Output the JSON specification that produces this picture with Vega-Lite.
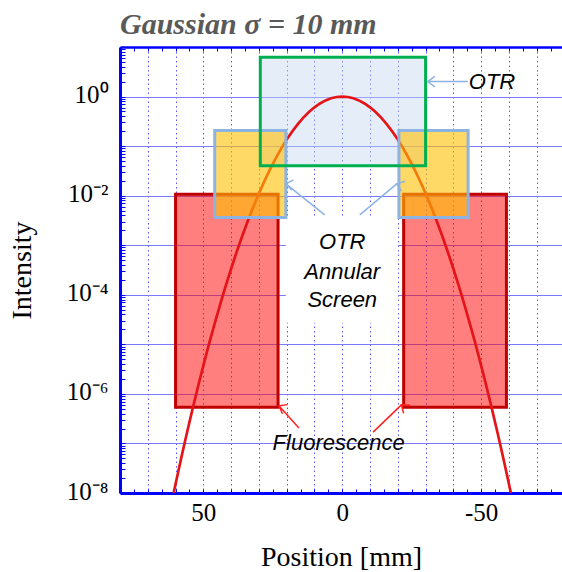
{
  "$schema": "https://vega.github.io/schema/vega-lite/v6.json",
  "width": 442,
  "height": 446,
  "autosize": {"type": "none"},
  "padding": {"left": 120, "top": 47, "right": 0, "bottom": 79},
  "background": "white",
  "title": {"text": "Gaussian σ = 10 mm", "anchor": "start", "frame": "group", "font": "Liberation Serif", "fontSize": 30, "fontStyle": "italic", "fontWeight": "bold", "color": "#595959", "offset": 11, "dy": 42, "baseline": "alphabetic"},
  "config": {"view": {"stroke": null}},
  "resolve": {"axis": {"x": "independent"}},
  "datasets": {
    "boxes": [
      {"part": "Fluorescence", "x1": 60, "x2": 23.1, "y1": 5.4e-7, "y2": 0.0107},
      {"part": "Fluorescence", "x1": -22.1, "x2": -59.1, "y1": 5.4e-7, "y2": 0.0107},
      {"part": "OTR Annular Screen", "x1": 45.9, "x2": 20.3, "y1": 0.00362, "y2": 0.206},
      {"part": "OTR Annular Screen", "x1": -20.4, "x2": -45.3, "y1": 0.00362, "y2": 0.206},
      {"part": "OTR", "x1": 29.5, "x2": -30, "y1": 0.04, "y2": 6.24},
      {"part": "Label area", "x1": 20.3, "x2": -20.1, "y1": 2.74e-5, "y2": 0.0037}
    ],
    "curve": [
      {"x": -60.7, "y": 1e-8}, {"x": -60, "y": 1.523e-8}, {"x": -58, "y": 4.96e-8}, {"x": -56, "y": 1.55e-7},
      {"x": -54, "y": 4.66e-7}, {"x": -52, "y": 1.345e-6}, {"x": -50, "y": 3.73e-6}, {"x": -48, "y": 9.94e-6},
      {"x": -46, "y": 2.54e-5}, {"x": -44, "y": 6.25e-5}, {"x": -42, "y": 1.477e-4}, {"x": -40, "y": 3.35e-4},
      {"x": -38, "y": 7.32e-4}, {"x": -36, "y": 1.534e-3}, {"x": -34, "y": 3.089e-3}, {"x": -32, "y": 5.977e-3},
      {"x": -30, "y": 0.01111}, {"x": -28, "y": 0.0198}, {"x": -26, "y": 0.034}, {"x": -24, "y": 0.0561},
      {"x": -22, "y": 0.0889}, {"x": -20, "y": 0.1353}, {"x": -18, "y": 0.1979}, {"x": -16, "y": 0.278},
      {"x": -14, "y": 0.3753}, {"x": -12, "y": 0.4868}, {"x": -10, "y": 0.6065}, {"x": -8, "y": 0.7261},
      {"x": -6, "y": 0.8353}, {"x": -4, "y": 0.9231}, {"x": -2, "y": 0.9802}, {"x": 0, "y": 1},
      {"x": 2, "y": 0.9802}, {"x": 4, "y": 0.9231}, {"x": 6, "y": 0.8353}, {"x": 8, "y": 0.7261},
      {"x": 10, "y": 0.6065}, {"x": 12, "y": 0.4868}, {"x": 14, "y": 0.3753}, {"x": 16, "y": 0.278},
      {"x": 18, "y": 0.1979}, {"x": 20, "y": 0.1353}, {"x": 22, "y": 0.0889}, {"x": 24, "y": 0.0561},
      {"x": 26, "y": 0.034}, {"x": 28, "y": 0.0198}, {"x": 30, "y": 0.01111}, {"x": 32, "y": 5.977e-3},
      {"x": 34, "y": 3.089e-3}, {"x": 36, "y": 1.534e-3}, {"x": 38, "y": 7.32e-4}, {"x": 40, "y": 3.35e-4},
      {"x": 42, "y": 1.477e-4}, {"x": 44, "y": 6.25e-5}, {"x": 46, "y": 2.54e-5}, {"x": 48, "y": 9.94e-6},
      {"x": 50, "y": 3.73e-6}, {"x": 52, "y": 1.345e-6}, {"x": 54, "y": 4.66e-7}, {"x": 56, "y": 1.55e-7},
      {"x": 58, "y": 4.96e-8}, {"x": 60, "y": 1.523e-8}, {"x": 60.7, "y": 1e-8}
    ],
    "arrows": [
      {"id": "otr", "kind": "OTR", "tx": -45.2, "ty": 2.01, "hx": -30.8, "hy": 2.01},
      {"id": "annular-left", "kind": "OTR", "tx": 6.3, "ty": 0.0041, "hx": 20.3, "hy": 0.01734},
      {"id": "annular-right", "kind": "OTR", "tx": -6.3, "ty": 0.0041, "hx": -19.6, "hy": 0.01734},
      {"id": "fluor-left", "kind": "Fluorescence", "tx": 15.6, "ty": 2.04e-7, "hx": 22.8, "hy": 5.74e-7},
      {"id": "fluor-right", "kind": "Fluorescence", "tx": -11.1, "ty": 1.69e-7, "hx": -21.3, "hy": 6.0e-7}
    ],
    "labels": [
      {"text": "OTR", "x": -53.9, "y": 2.01},
      {"text": "OTR", "x": 0, "y": 0.001186},
      {"text": "Annular", "x": 0, "y": 2.94e-4},
      {"text": "Screen", "x": 0, "y": 7.9e-5},
      {"text": "Fluorescence", "x": 1.3, "y": 1.01e-7}
    ]
  },
  "layer": [
    {
      "data": {"name": "boxes"},
      "transform": [{"filter": "datum.part == 'Fluorescence'"}],
      "mark": {"type": "rect", "fill": "#ff0000", "fillOpacity": 0.5, "stroke": "#c00000", "strokeWidth": 3, "clip": false},
      "encoding": {
        "x": {"field": "x1", "type": "quantitative",
          "scale": {"domain": [80, -79.1], "nice": false, "zero": false},
          "axis": {
            "orient": "bottom",
            "values": [-75,-70,-65,-60,-55,-50,-45,-40,-35,-30,-25,-20,-15,-10,-5,0,5,10,15,20,25,30,35,40,45,50,55,60,65,70,75,80],
            "title": "Position [mm]", "titleFont": "Liberation Serif", "titleFontSize": 28, "titleFontWeight": "normal", "titleColor": "black", "titlePadding": 18,
            "labelExpr": "datum.value == 50 || datum.value == 0 || datum.value == -50 ? '' + datum.value : ''",
            "labelFont": "Liberation Serif", "labelFontSize": 25, "labelColor": "black", "labelPadding": 11, "labelFlush": false, "labelOverlap": false,
            "domainColor": "#0000ff", "domainWidth": 3, "tickColor": "#0000ff", "tickSize": -4, "tickWidth": 1,
            "grid": true, "gridColor": "#3a3aff", "gridDash": [1.5, 3], "gridWidth": 1,
            "gridOpacity": {"condition": {"test": "datum.value % 10 == 0", "value": 0.85}, "value": 0}
          }},
        "x2": {"field": "x2"},
        "y": {"field": "y1", "type": "quantitative",
          "scale": {"type": "log", "domain": [1e-8, 10], "nice": false},
          "axis": {
            "values": [1e-8,2e-8,3e-8,4e-8,5e-8,6e-8,7e-8,8e-8,9e-8,1e-7,2e-7,3e-7,4e-7,5e-7,6e-7,7e-7,8e-7,9e-7,1e-6,2e-6,3e-6,4e-6,5e-6,6e-6,7e-6,8e-6,9e-6,1e-5,2e-5,3e-5,4e-5,5e-5,6e-5,7e-5,8e-5,9e-5,1e-4,2e-4,3e-4,4e-4,5e-4,6e-4,7e-4,8e-4,9e-4,0.001,0.002,0.003,0.004,0.005,0.006,0.007,0.008,0.009,0.01,0.02,0.03,0.04,0.05,0.06,0.07,0.08,0.09,0.1,0.2,0.3,0.4,0.5,0.6,0.7,0.8,0.9,1,2,3,4,5,6,7,8,9,10],
            "title": "Intensity", "titleFont": "Liberation Serif", "titleFontSize": 28, "titleFontWeight": "normal", "titleColor": "black", "titlePadding": 30,
            "labelExpr": "datum.value == 1 ? '10⁰' : datum.value == 0.01 ? '10⁻²' : datum.value == 0.0001 ? '10⁻⁴' : datum.value == 0.000001 ? '10⁻⁶' : datum.value == 1e-8 ? '10⁻⁸' : ''",
            "labelFont": "Liberation Serif", "labelFontSize": 25, "labelColor": "black", "labelPadding": 17, "labelOffset": -2, "labelFlush": false, "labelOverlap": false,
            "domainColor": "#0000ff", "domainWidth": 3, "tickColor": "#0000ff", "tickSize": -5, "tickWidth": 1,
            "grid": true, "gridColor": "#7a7aff", "gridWidth": 1.2,
            "gridOpacity": {"condition": {"test": "abs(log(datum.value)/LN10 - round(log(datum.value)/LN10)) < 0.001", "value": 1}, "value": 0}
          }},
        "y2": {"field": "y2"}
      }
    },
    {
      "data": {"name": "boxes"},
      "transform": [{"filter": "datum.part == 'Label area'"}],
      "mark": {"type": "rect", "fill": "white", "stroke": null},
      "encoding": {
        "x": {"field": "x1", "type": "quantitative", "axis": {"orient": "top", "values": [-75,-70,-65,-60,-55,-50,-45,-40,-35,-30,-25,-20,-15,-10,-5,0,5,10,15,20,25,30,35,40,45,50,55,60,65,70,75,80], "labels": false, "title": null, "grid": false, "domainColor": "#0000ff", "domainWidth": 2.5, "tickColor": "#0000ff", "tickSize": -4, "tickWidth": 1}},
        "x2": {"field": "x2"},
        "y": {"field": "y1", "type": "quantitative"},
        "y2": {"field": "y2"}
      }
    },
    {
      "data": {"name": "boxes"},
      "transform": [{"filter": "datum.part == 'OTR'"}],
      "mark": {"type": "rect", "fill": "#c6d9f0", "fillOpacity": 0.45, "stroke": null},
      "encoding": {
        "x": {"field": "x1", "type": "quantitative", "axis": null},
        "x2": {"field": "x2"},
        "y": {"field": "y1", "type": "quantitative"},
        "y2": {"field": "y2"}
      }
    },
    {
      "data": {"name": "curve"},
      "mark": {"type": "line", "color": "#e41419", "strokeWidth": 2.7, "clip": true},
      "encoding": {
        "x": {"field": "x", "type": "quantitative", "axis": null},
        "y": {"field": "y", "type": "quantitative"}
      }
    },
    {
      "data": {"name": "boxes"},
      "transform": [{"filter": "datum.part == 'OTR Annular Screen'"}],
      "mark": {"type": "rect", "fill": "#ffc000", "fillOpacity": 0.6, "stroke": "#8db3e2", "strokeWidth": 3},
      "encoding": {
        "x": {"field": "x1", "type": "quantitative", "axis": null},
        "x2": {"field": "x2"},
        "y": {"field": "y1", "type": "quantitative"},
        "y2": {"field": "y2"}
      }
    },
    {
      "data": {"name": "boxes"},
      "transform": [{"filter": "datum.part == 'OTR'"}],
      "mark": {"type": "rect", "fill": null, "fillOpacity": 0, "stroke": "#00b050", "strokeWidth": 3},
      "encoding": {
        "x": {"field": "x1", "type": "quantitative", "axis": null},
        "x2": {"field": "x2"},
        "y": {"field": "y1", "type": "quantitative"},
        "y2": {"field": "y2"}
      }
    },
    {
      "data": {"name": "arrows"},
      "mark": {"type": "rule", "strokeWidth": 1.5},
      "encoding": {
        "x": {"field": "tx", "type": "quantitative", "axis": null},
        "x2": {"field": "hx"},
        "y": {"field": "ty", "type": "quantitative"},
        "y2": {"field": "hy"},
        "color": {"field": "kind", "type": "nominal", "scale": {"domain": ["OTR", "Fluorescence"], "range": ["#8db3e2", "#ff2020"]}, "legend": null}
      }
    },
    {
      "data": {"name": "arrows"},
      "mark": {"type": "point", "shape": "M-1,-0.75L0,0L-1,0.75", "filled": false, "size": 196, "strokeWidth": 1.5, "opacity": 1},
      "encoding": {
        "x": {"field": "hx", "type": "quantitative", "axis": null},
        "y": {"field": "hy", "type": "quantitative"},
        "color": {"field": "kind", "type": "nominal", "legend": null},
        "angle": {"field": "id", "type": "nominal", "scale": {"domain": ["otr", "annular-left", "annular-right", "fluor-left", "fluor-right"], "range": [180, 218.5, 320, 228.1, 316.1]}, "legend": null}
      }
    },
    {
      "data": {"name": "labels"},
      "mark": {"type": "text", "font": "Liberation Sans", "fontStyle": "italic", "fontSize": 22, "color": "black", "align": "center", "baseline": "middle"},
      "encoding": {
        "x": {"field": "x", "type": "quantitative", "axis": null},
        "y": {"field": "y", "type": "quantitative"},
        "text": {"field": "text"}
      }
    }
  ]
}
